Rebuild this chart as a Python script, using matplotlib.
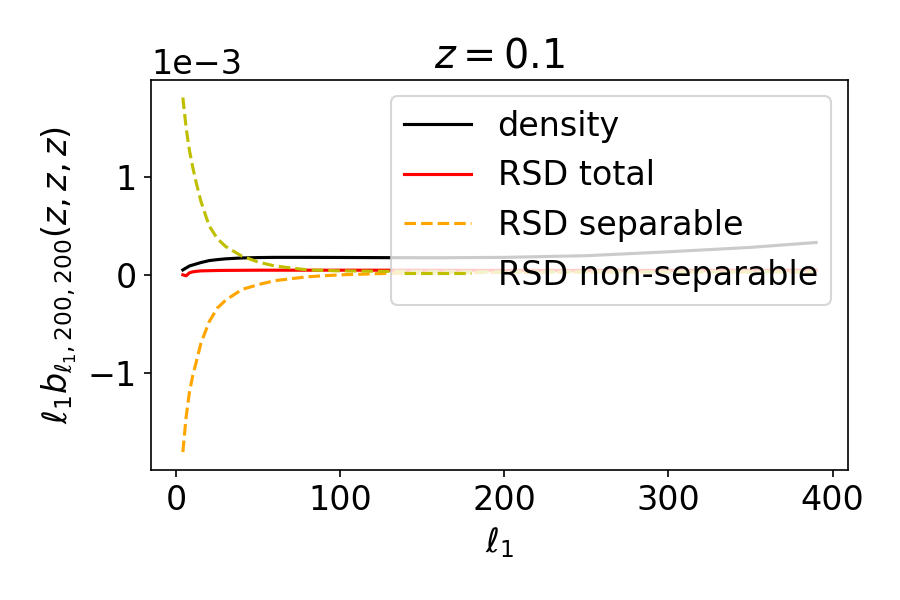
import numpy as np
import matplotlib
matplotlib.use("Agg")
import matplotlib.pyplot as plt

ell = [4, 6, 8, 10, 12, 15, 20, 25, 30, 40, 50, 60, 80, 100, 130, 160, 200, 250, 300, 350, 390]
density = [0.05, 0.07, 0.09, 0.10, 0.11, 0.125, 0.145, 0.155, 0.163, 0.172, 0.176, 0.178, 0.178,
           0.177, 0.175, 0.174, 0.178, 0.195, 0.235, 0.28, 0.33]
rsd_total = [0.0, -0.01, 0.02, 0.03, 0.035, 0.04, 0.042, 0.044, 0.045, 0.046, 0.047, 0.047, 0.047,
             0.047, 0.047, 0.046, 0.045, 0.045, 0.045, 0.046, 0.048]
rsd_sep = [-1.81, -1.45, -1.2, -1.03, -0.9, -0.7, -0.48, -0.34, -0.26, -0.15, -0.10, -0.06, -0.02,
           0.0, 0.015, 0.02, 0.025, 0.028, 0.03, 0.03, 0.03]
rsd_nonsep = [1.81, 1.5, 1.27, 1.1, 0.95, 0.75, 0.5, 0.37, 0.29, 0.19, 0.13, 0.09, 0.05,
              0.04, 0.035, 0.032, 0.03, 0.03, 0.03, 0.03, 0.03]

scale = 1e-3
fig = plt.figure(figsize=(6, 4), dpi=150)
ax = fig.add_axes([0.168, 0.217, 0.774, 0.65])
ax.plot(ell, np.array(density) * scale, color='black', label='density')
ax.plot(ell, np.array(rsd_total) * scale, color='red', label='RSD total')
ax.plot(ell, np.array(rsd_sep) * scale, color='orange', linestyle='--', label='RSD separable')
ax.plot(ell, np.array(rsd_nonsep) * scale, color='y', linestyle='--', label='RSD non-separable')
ax.ticklabel_format(axis='y', style='sci', scilimits=(0, 0))
ax.tick_params(labelsize=16)
ax.yaxis.get_offset_text().set_fontsize(16)
ax.set_xlabel(r'$\ell_1$', fontsize=16)
ax.set_ylabel(r'$\ell_1 b_{\ell_1,200,200}(z,z,z)$', fontsize=16)
ax.set_title(r'$z=0.1$', fontsize=19)
ax.legend(fontsize=16, loc='upper right')
fig.savefig('out.png', dpi=150)
